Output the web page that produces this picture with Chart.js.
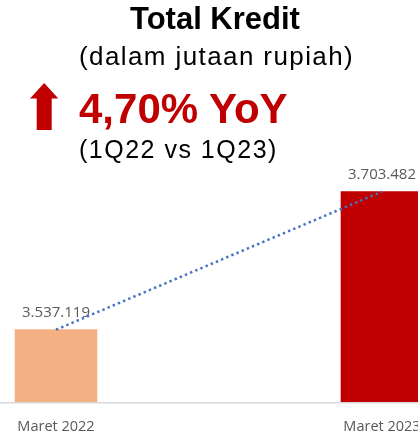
<!DOCTYPE html>
<html>
<head>
<meta charset="utf-8">
<script src="https://cdn.jsdelivr.net/npm/chart.js@4/dist/chart.umd.min.js"></script>
<style>
  html, body { margin: 0; padding: 0; background: #fff; }
  body { position: relative; width: 418px; height: 436px; overflow: hidden; font-family: "Liberation Sans", Arial, sans-serif; }
  .hd { position: absolute; white-space: nowrap; }
  #t1 { left: 130px; top: 3px; font-size: 31px; line-height: 31px; font-weight: bold; color: #000; }
  #t2 { left: 79px; top: 43px; font-size: 26px; line-height: 26px; letter-spacing: 1.4px; color: #000; }
  #t3 { left: 79px; top: 88px; font-size: 42px; line-height: 42px; font-weight: bold; color: #C00000; }
  #t4 { left: 79px; top: 137px; font-size: 25px; line-height: 25px; letter-spacing: 1.5px; color: #000; }
  #arrow { position: absolute; left: 0; top: 0; }
  #chart { position: absolute; left: 0; top: 0; }
</style>
</head>
<body>
<canvas id="chart" width="500" height="436"></canvas>
<svg id="arrow" width="70" height="140">
  <polygon points="44.2,83 30,98.5 36.7,98.5 36.7,130 51.7,130 51.7,98.5 58.3,98.5" fill="#C00000"/>
</svg>
<div class="hd" id="t1">Total Kredit</div>
<div class="hd" id="t2">(dalam jutaan rupiah)</div>
<div class="hd" id="t3">4,70% YoY</div>
<div class="hd" id="t4">(1Q22 vs 1Q23)</div>

<script>
// data
const categories = ['Maret 2022', 'Maret 2023'];
const kreditValues = [3537119, 3703482];
const yMin = 3450000;
const yMax = 3750000;

const barColors = ['#F4B183', '#C00000'];
const trendColor = '#4472C4';
const textGray = '#595959';

function formatRibuan(v) {
  return String(v).replace(/\B(?=(\d{3})+(?!\d))/g, '.');
}

// garis dasar + label nilai di atas bar
const barLabels = {
  id: 'barLabels',
  beforeDatasetsDraw(chart) {
    const { ctx, chartArea } = chart;
    ctx.save();
    ctx.strokeStyle = '#D9D9D9';
    ctx.lineWidth = 1.5;
    ctx.beginPath();
    ctx.moveTo(0, chartArea.bottom + 0.75);
    ctx.lineTo(chart.width, chartArea.bottom + 0.75);
    ctx.stroke();

    ctx.font = '15px "Open Sans"';
    ctx.fillStyle = textGray;
    ctx.textAlign = 'center';
    ctx.textBaseline = 'alphabetic';
    chart.getDatasetMeta(0).data.forEach((bar, i) => {
      ctx.fillText(formatRibuan(kreditValues[i]), bar.x, bar.y - 12.5);
    });
    ctx.restore();
  }
};

new Chart(document.getElementById('chart'), {
  type: 'bar',
  data: {
    labels: categories,
    datasets: [{
      label: 'Total Kredit',
      data: kreditValues,
      backgroundColor: barColors,
      barThickness: 82,
      clip: { left: false, right: false, top: false, bottom: 0 },
      order: 1
    }, {
      type: 'line',
      label: 'Tren',
      data: kreditValues,
      borderColor: trendColor,
      borderWidth: 2.5,
      borderDash: [2.4, 3.2],
      pointRadius: 0,
      fill: false,
      clip: false,
      order: 0
    }]
  },
  options: {
    responsive: false,
    animation: false,
    layout: { padding: { left: 56, right: 118, top: 153, bottom: 0 } },
    plugins: {
      legend: { display: false },
      tooltip: { enabled: false }
    },
    scales: {
      x: {
        offset: false,
        grid: { display: false, drawTicks: false },
        border: { display: false },
        ticks: {
          padding: 16,
          color: textGray,
          font: { family: 'Open Sans', size: 14.5 }
        },
        afterFit: s => { s.height = 34; }
      },
      y: {
        display: false,
        min: yMin,
        max: yMax
      }
    }
  },
  plugins: [barLabels]
});
</script>
</body>
</html>
